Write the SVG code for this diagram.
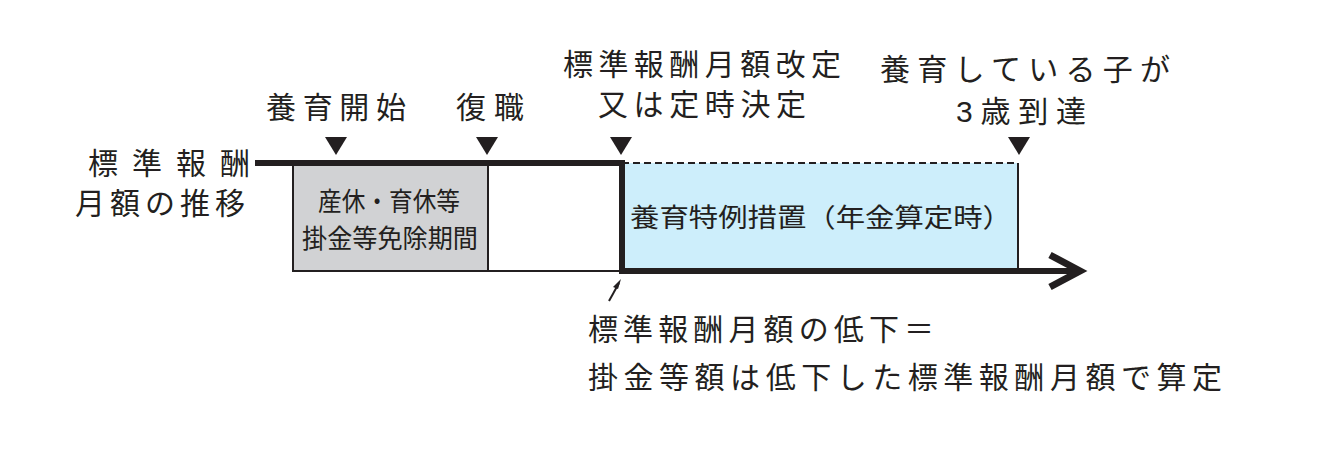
<svg xmlns="http://www.w3.org/2000/svg" width="1325" height="451" viewBox="0 0 1325 451">
<style>
text{font-family:"Liberation Sans","Noto Sans CJK JP",sans-serif;fill:#231f20}
.l{font-size:30px}.b{font-size:26px}
</style>
<defs><path id="tri" d="M-11,0 L11,0 L0,18 Z" fill="#231f20"/></defs>
<rect width="1325" height="451" fill="#fff"/>
<g id="grey"><rect x="293" y="163" width="195" height="108" fill="#d1d2d4" stroke="#231f20" stroke-width="2"/>
<text class="b" x="318" y="211" textLength="142" lengthAdjust="spacingAndGlyphs">産休・育休等</text>
<text class="b" x="302" y="248" textLength="176" lengthAdjust="spacingAndGlyphs">掛金等免除期間</text></g>
<g id="white"><rect x="488" y="163" width="134" height="108" fill="#fff" stroke="#231f20" stroke-width="2"/></g>
<g id="blue"><rect x="622" y="163" width="396" height="108" fill="#cdeefb"/>
<line x1="1018" y1="163" x2="1018" y2="271" stroke="#231f20" stroke-width="2"/>
<line x1="622" y1="163" x2="1018" y2="163" stroke="#231f20" stroke-width="2" stroke-dasharray="7,4"/>
<text class="b" x="630" y="227" textLength="382" lengthAdjust="spacingAndGlyphs">養育特例措置（年金算定時）</text></g>
<g id="connectors" fill="none" stroke="#231f20">
<polyline points="255,163 622,163 622,271 1080,271" stroke-width="6"/>
<polyline points="1050,255 1080,271 1050,287" stroke-width="7"/>
<line x1="609" y1="301" x2="619" y2="283" stroke-width="2"/>
<path d="M621,279 L613,287 L618,289 Z" fill="#231f20" stroke="none"/>
</g>
<g id="markers">
<use href="#tri" x="336" y="137"/><use href="#tri" x="487" y="137"/>
<use href="#tri" x="621" y="137"/><use href="#tri" x="1019" y="137"/>
</g>
<g id="labels">
<text class="l" x="266" y="118" textLength="140" lengthAdjust="spacing">養育開始</text>
<text class="l" x="456" y="118" textLength="68" lengthAdjust="spacing">復職</text>
<text class="l" x="563" y="75" textLength="278" lengthAdjust="spacing">標準報酬月額改定</text>
<text class="l" x="598" y="115" textLength="208" lengthAdjust="spacing">又は定時決定</text>
<text class="l" x="880" y="80" textLength="290" lengthAdjust="spacing">養育している子が</text>
<text class="l" x="956" y="122" textLength="130" lengthAdjust="spacing">3歳到達</text>
<text class="l" x="88" y="174" textLength="162" lengthAdjust="spacing">標準報酬</text>
<text class="l" x="75" y="214" textLength="170" lengthAdjust="spacing">月額の推移</text>
<text class="l" x="588" y="340" textLength="346" lengthAdjust="spacing">標準報酬月額の低下＝</text>
<text class="l" x="588" y="388" textLength="634" lengthAdjust="spacing">掛金等額は低下した標準報酬月額で算定</text>
</g>
</svg>
